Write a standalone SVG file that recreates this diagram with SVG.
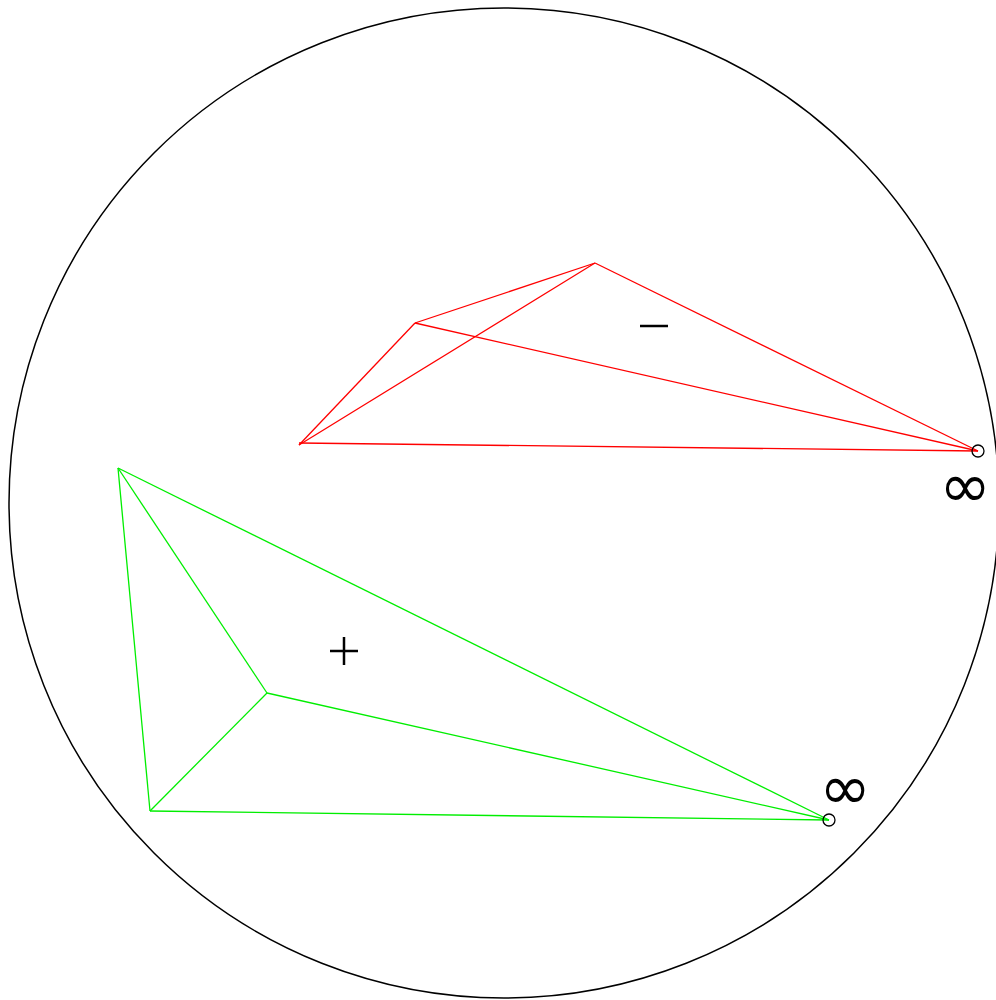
<svg xmlns="http://www.w3.org/2000/svg" width="996" height="1000" viewBox="0 0 996 1000">
<style>
.red{stroke:#ff0000;stroke-width:1.3;fill:none}
.green{stroke:#00ee00;stroke-width:1.3;fill:none}
.pt{stroke:#000;stroke-width:1.3;fill:none}
.lbl{font-family:"DejaVu Sans",sans-serif;font-size:62px;fill:#000;text-anchor:middle}
.sign{stroke:#000;stroke-width:2.5}
</style>
<rect width="996" height="1000" fill="#fff"/>
<circle cx="504" cy="503" r="495" fill="none" stroke="#000" stroke-width="1.5"/>
<g id="connectors">
<line class="red" x1="299" y1="445" x2="415" y2="323"/>
<line class="red" x1="299" y1="445" x2="595" y2="263"/>
<line class="red" x1="415" y1="323" x2="595" y2="263"/>
<line class="red" x1="595" y1="263" x2="978" y2="451"/>
<line class="red" x1="415" y1="323" x2="978" y2="451"/>
<line class="red" x1="299" y1="443" x2="978" y2="451"/>
<line class="green" x1="118" y1="468" x2="267" y2="693"/>
<line class="green" x1="118" y1="468" x2="150" y2="811"/>
<line class="green" x1="267" y1="693" x2="150" y2="811"/>
<line class="green" x1="118" y1="468" x2="829" y2="820"/>
<line class="green" x1="267" y1="693" x2="829" y2="820"/>
<line class="green" x1="150" y1="811" x2="829" y2="820"/>
</g>
<g id="inf-red"><circle class="pt" cx="978" cy="451" r="6"/><text class="lbl" x="965" y="507">∞</text></g>
<g id="inf-green"><circle class="pt" cx="829" cy="820" r="6"/><text class="lbl" x="845" y="809">∞</text></g>
<g id="minus"><line class="sign" x1="640" y1="326" x2="668" y2="326"/></g>
<g id="plus"><line class="sign" x1="330" y1="651" x2="358" y2="651"/><line class="sign" x1="344" y1="637" x2="344" y2="665"/></g>
</svg>
